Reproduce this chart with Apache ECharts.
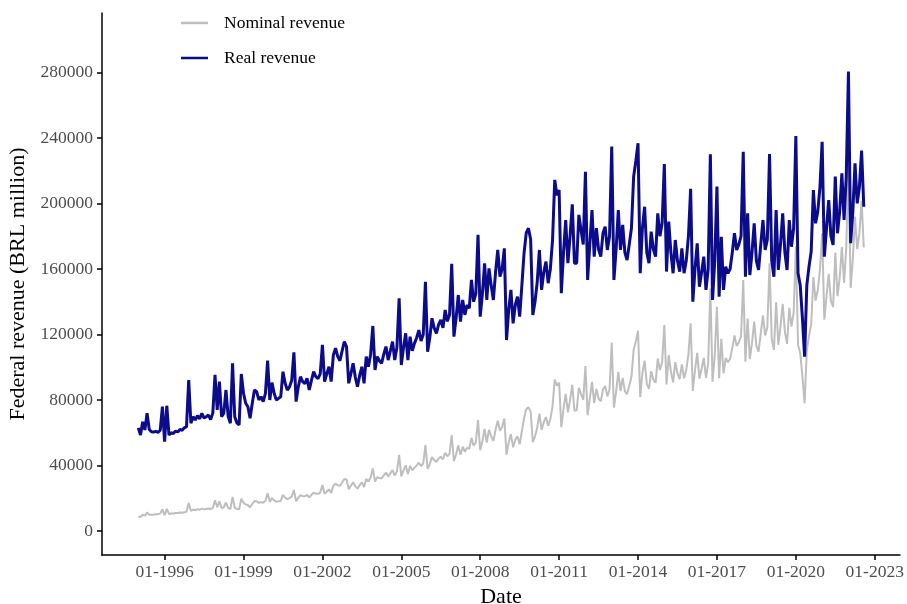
<!DOCTYPE html>
<html>
<head>
<meta charset="utf-8">
<title>Federal revenue</title>
<script src="https://cdn.jsdelivr.net/npm/echarts/dist/echarts.min.js"></script>
<style>
  html, body { margin: 0; padding: 0; background: #fff; }
  #myChart1 { width: 907px; height: 604px; }
</style>
</head>
<body>
<div id="myChart1"></div>
<script>
// monthly series, Jan 1995 - Aug 2022 (BRL million)
var startYear = 1995;

var realRevenue = [
  63000, 58600, 66700, 61700, 71900, 62000, 60600, 60400, 60800, 60200, 61500, 75900, // 1995
  54500, 76500, 58600, 60000, 59500, 61000, 60500, 62000, 61500, 63000, 63700, 92200, // 1996
  65800, 69800, 67800, 70500, 68500, 71900, 69000, 69800, 70800, 68000, 72000, 95300, // 1997
  73900, 91200, 69800, 71900, 86100, 70000, 65800, 102400, 69800, 66000, 64700, 95900, // 1998
  84100, 78000, 75900, 68800, 78000, 86100, 85100, 80000, 82000, 79000, 84000, 104000, // 1999
  80000, 90600, 84000, 80000, 81000, 82000, 97300, 90200, 86000, 88000, 92000, 109100, // 2000
  79000, 88000, 94200, 91200, 90000, 93200, 86100, 92000, 97300, 94200, 93000, 96000, // 2001
  113600, 91200, 96000, 100300, 91200, 107500, 111600, 106500, 104000, 110000, 115600, 112600, // 2002
  90200, 96000, 102400, 94000, 88100, 95000, 100300, 90200, 106500, 100300, 108000, 125200, // 2003
  98300, 106500, 104000, 102400, 108000, 112600, 104400, 110000, 115600, 104400, 112000, 142100, // 2004
  101400, 112000, 120700, 104400, 118700, 110000, 114600, 118000, 122700, 116000, 120000, 152200, // 2005
  109500, 118000, 129900, 124000, 120700, 126000, 128900, 124000, 135000, 128000, 132000, 163100, // 2006
  118700, 130000, 144100, 127800, 141100, 132000, 138000, 136000, 153300, 140000, 145000, 180800, // 2007
  130900, 145000, 163500, 141100, 160400, 150000, 141100, 158000, 171600, 155300, 160000, 172600, // 2008
  116600, 135000, 147200, 126800, 138000, 143100, 130900, 150000, 169600, 182000, 184900, 178000, // 2009
  131900, 140000, 152000, 171600, 147200, 158000, 164500, 151300, 160000, 177700, 214400, 205000, // 2010
  208200, 145200, 170000, 189900, 163500, 180000, 199500, 163500, 163500, 193000, 183800, 175000, // 2011
  219400, 153300, 175000, 196000, 167500, 184900, 172000, 167500, 181800, 185800, 171600, 180000, // 2012
  234700, 153300, 172000, 196000, 171600, 186900, 170000, 165500, 175000, 185000, 216400, 226000, // 2013
  236800, 157400, 185000, 198000, 170000, 163500, 182800, 172000, 167500, 194000, 180000, 188000, // 2014
  224100, 158400, 188900, 170000, 157400, 177700, 165000, 158400, 172600, 157400, 165000, 180000, // 2015
  208900, 140000, 160000, 175700, 149200, 158000, 167500, 147200, 160000, 230100, 141100, 165000, // 2016
  210300, 143100, 179700, 147200, 161400, 157400, 160000, 170000, 181800, 171600, 175000, 180000, // 2017
  231600, 155300, 194000, 156300, 170000, 187900, 165000, 159400, 175000, 189900, 171600, 178000, // 2018
  230200, 165000, 155300, 196000, 159400, 175000, 194000, 170000, 159400, 189900, 173600, 185000, // 2019
  241200, 157400, 150000, 130000, 106400, 150000, 161400, 170600, 208200, 187900, 195000, 210000, // 2020
  237700, 167500, 185000, 202100, 180000, 174700, 216400, 181800, 195000, 218400, 190000, 216400, // 2021
  280500, 175700, 195000, 224500, 200100, 210000, 232300, 198000 // 2022
];

var nominalRevenue = [
  8800, 8500, 9900, 9400, 11300, 9900, 9900, 10000, 10300, 10300, 10600, 13300, // 1995
  9600, 13500, 10400, 10700, 10700, 11000, 11000, 11300, 11200, 11500, 11700, 17100, // 1996
  12200, 13100, 12700, 13300, 13000, 13700, 13200, 13500, 13700, 13300, 14100, 18800, // 1997
  14600, 18100, 14000, 14500, 17400, 14100, 13400, 20800, 14200, 13500, 13300, 19700, // 1998
  17300, 16200, 15900, 14500, 16500, 18300, 18200, 17200, 17700, 17200, 18400, 23000, // 1999
  17800, 20100, 18700, 17900, 18100, 18500, 22000, 20400, 19500, 20100, 21000, 25000, // 2000
  18200, 20300, 21900, 21300, 21200, 22100, 20500, 22100, 23400, 22800, 22700, 23500, // 2001
  28100, 22700, 24100, 25400, 23300, 27600, 28900, 27900, 27600, 29600, 31700, 31400, // 2002
  25500, 27600, 29700, 27400, 25900, 28000, 29700, 26900, 31800, 30200, 32700, 38200, // 2003
  30200, 32900, 32300, 32100, 34000, 35700, 33300, 35200, 37200, 33800, 36500, 46500, // 2004
  33400, 37000, 40100, 34800, 39800, 37000, 38700, 40000, 41700, 39700, 41200, 52500, // 2005
  37900, 40900, 45200, 43300, 42200, 44200, 45400, 43800, 47800, 45600, 47100, 58600, // 2006
  42700, 46900, 52300, 46500, 51500, 48400, 50800, 50200, 56900, 52100, 54200, 67800, // 2007
  49300, 55000, 62300, 54000, 61800, 58100, 54900, 61800, 67400, 61300, 63500, 68700, // 2008
  46600, 54100, 59200, 51100, 55800, 57800, 53000, 60900, 69000, 74300, 75600, 73000, // 2009
  54200, 57800, 63100, 71600, 61700, 66500, 69600, 64300, 68300, 76200, 92400, 88800, // 2010
  90600, 63500, 74600, 83700, 72400, 80100, 89200, 73400, 73700, 87400, 83600, 80000, // 2011
  100700, 70700, 81000, 91100, 78200, 86700, 81000, 79200, 86400, 88600, 82200, 86600, // 2012
  115000, 75400, 85000, 97200, 85500, 93500, 85300, 83600, 88700, 94200, 110600, 115900, // 2013
  122200, 81700, 96600, 104000, 89800, 86800, 97600, 92400, 90500, 105300, 98300, 103200, // 2014
  125700, 89500, 107500, 97400, 90800, 103100, 96200, 92800, 101700, 93200, 98300, 108000, // 2015
  126800, 85500, 98400, 108800, 93000, 99100, 105700, 93500, 102200, 148000, 91200, 107100, // 2016
  136900, 93300, 117300, 96300, 105600, 103100, 105000, 111700, 119400, 112900, 115300, 118800, // 2017
  153300, 103400, 129800, 105000, 114900, 127800, 112900, 109500, 120800, 131600, 119400, 124400, // 2018
  163400, 117300, 110600, 139700, 113700, 125000, 138700, 121700, 114300, 136300, 124800, 133200, // 2019
  173700, 113600, 108600, 94400, 78000, 110300, 119100, 126400, 155100, 140700, 147000, 159600, // 2020
  181800, 129000, 143200, 157000, 140400, 136800, 170100, 143400, 154400, 173600, 151400, 172900, // 2021
  227200, 148500, 165800, 192000, 172100, 181700, 201600, 173100 // 2022
];

var xTickYears = [1996, 1999, 2002, 2005, 2008, 2011, 2014, 2017, 2020, 2023];
var yTicks = [0, 40000, 80000, 120000, 160000, 200000, 240000, 280000];

var fontFamily = "'Liberation Serif', 'DejaVu Serif', serif";

// x position of each month as a decimal year
var dates = realRevenue.map(function (_, i) {
  return startYear + i / 12;
});
var nominalData = dates.map(function (d, i) { return [d, nominalRevenue[i]]; });
var realData = dates.map(function (d, i) { return [d, realRevenue[i]]; });

var chartDom = document.getElementById("myChart1");
var myChart = echarts.init(chartDom, null, { renderer: "canvas" });
var option;

option = {
  animation: false,
  backgroundColor: "#ffffff",
  grid: { left: 102, right: 7, top: 13, bottom: 49, containLabel: false, outerBoundsMode: "none" },
  legend: {
    orient: "vertical",
    left: 181,
    top: 13,
    padding: 0,
    itemGap: 15,
    itemWidth: 27,
    itemHeight: 2.5,
    icon: "rect",
    textStyle: {
      fontFamily: fontFamily,
      fontSize: 17.5,
      color: "#000",
      lineHeight: 20,
      padding: [0, 0, 0, 11]
    },
    data: ["Nominal revenue", "Real revenue"]
  },
  xAxis: {
    type: "value",
    min: 1993.62,
    max: 2023.96,
    name: "Date",
    nameLocation: "middle",
    nameGap: 29,
    nameTextStyle: { fontFamily: fontFamily, fontSize: 22, color: "#000" },
    axisLine: { show: true, onZero: false, lineStyle: { color: "#000", width: 1.5 } },
    axisTick: {
      show: true,
      length: 5,
      customValues: xTickYears,
      lineStyle: { color: "#000", width: 1.5 }
    },
    axisLabel: {
      customValues: xTickYears,
      formatter: function (v) { return "01-" + Math.round(v); },
      fontFamily: fontFamily,
      fontSize: 17.5,
      color: "#4d4d4d",
      margin: 8
    },
    splitLine: { show: false }
  },
  yAxis: {
    type: "value",
    min: -14650,
    max: 316300,
    name: "Federal revenue (BRL million)",
    nameLocation: "middle",
    nameRotate: 90,
    nameGap: 67,
    nameTextStyle: { fontFamily: fontFamily, fontSize: 22, color: "#000" },
    axisLine: { show: true, onZero: false, lineStyle: { color: "#000", width: 1.5 } },
    axisTick: {
      show: true,
      length: 5,
      customValues: yTicks,
      lineStyle: { color: "#000", width: 1.5 }
    },
    axisLabel: {
      customValues: yTicks,
      formatter: function (v) { return String(Math.round(v)); },
      fontFamily: fontFamily,
      fontSize: 17.5,
      color: "#4d4d4d",
      margin: 9
    },
    splitLine: { show: false }
  },
  series: [
    {
      name: "Nominal revenue",
      type: "line",
      data: nominalData,
      showSymbol: false,
      symbol: "none",
      color: "#bebebe",
      lineStyle: { color: "#bebebe", width: 2 },
      z: 2
    },
    {
      name: "Real revenue",
      type: "line",
      data: realData,
      showSymbol: false,
      symbol: "none",
      color: "#0b0b8c",
      lineStyle: { color: "#0b0b8c", width: 3 },
      z: 3
    }
  ]
};

option && myChart.setOption(option);
</script>
</body>
</html>
